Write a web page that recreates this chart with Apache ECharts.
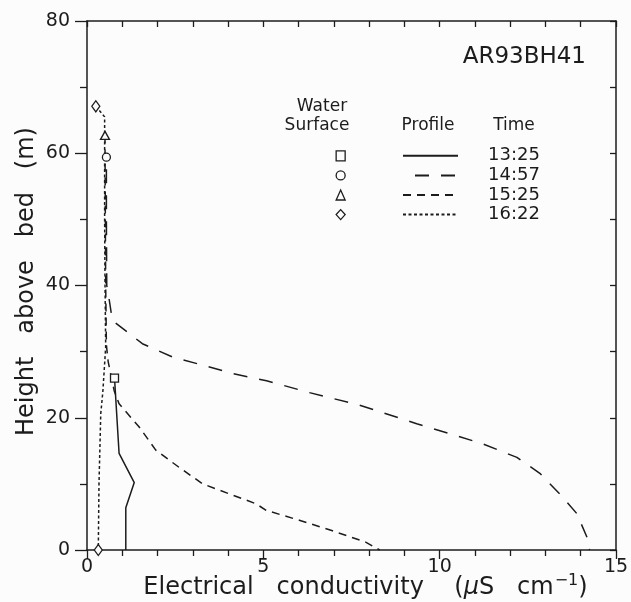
<!DOCTYPE html>
<html>
<head>
<meta charset="utf-8">
<title>AR93BH41</title>
<script src="https://cdn.jsdelivr.net/npm/echarts@6/dist/echarts.min.js"></script>
<style>
  html, body { margin: 0; padding: 0; background: #fcfcfc; }
  #chart { width: 631px; height: 602px; }
</style>
</head>
<body>
<div id="chart"></div>
<script>
// profile times and the water-surface symbol of each
const times = ['13:25', '14:57', '15:25', '16:22'];
const surfaceSymbols = ['rect', 'circle', 'triangle', 'diamond'];

// 13:25 solid
const cond1325 = [0.78, 0.91, 1.34, 1.1, 1.1];
const height1325 = [26, 14.6, 10.2, 6.4, 0];

// 14:57 long dash
const cond1457 = [0.55, 0.55, 0.56, 0.62, 0.72, 1.57, 2.42, 3.18, 4.12, 5.09, 6.31, 7.73, 9.35, 11.2, 12.19, 12.84, 13.4, 13.89, 14.18, 14.25];
const height1457 = [59.4, 50, 40, 38.2, 34.7, 31.2, 29.2, 28.1, 26.7, 25.6, 23.8, 21.9, 19.1, 16.1, 14.0, 11.6, 8.5, 5.5, 1.9, 0];

// 15:25 medium dash
const cond1525 = [0.51, 0.52, 0.53, 0.55, 0.6, 0.77, 0.91, 1.48, 1.95, 2.61, 3.28, 4.03, 4.79, 5.08, 6.02, 6.96, 7.9, 8.3];
const height1525 = [62.7, 50, 40, 31, 28.5, 24.1, 22.1, 18.6, 15.1, 12.5, 10, 8.5, 7, 6, 4.5, 2.9, 1.2, 0];

// 16:22 short dash
const cond1622 = [0.25, 0.5, 0.5, 0.51, 0.53, 0.45, 0.39, 0.34, 0.32];
const height1622 = [67.1, 65.5, 50, 40.8, 30.7, 24, 20.6, 10, 0];

// axis ranges
const xTicks = [0, 5, 10, 15];
const yTicks = [0, 20, 40, 60, 80];

const FONT = '"DejaVu Sans", sans-serif';
const INK = '#1c1c1c';
const BG = '#fcfcfc';

// data points marked with the water-surface symbol
function profile(cond, height, marked, symbol) {
    return cond.map(function (c, i) {
        if (marked.indexOf(i) >= 0) {
            return { value: [c, height[i]], symbol: symbol };
        }
        return [c, height[i]];
    });
}

const profiles = [
    { data: profile(cond1325, height1325, [0], 'rect'), dash: 'solid', offset: 0, size: 8 },
    { data: profile(cond1457, height1457, [0], 'circle'), dash: [14, 12], offset: 14, size: 8 },
    { data: profile(cond1525, height1525, [0], 'triangle'), dash: [8, 6], offset: 0, size: [9, 8] },
    { data: profile(cond1622, height1622, [0, cond1622.length - 1], 'diamond'), dash: [3, 2.5], offset: 0, size: [8, 11] }
];

const series = profiles.map(function (p, i) {
    return {
        name: times[i],
        type: 'line',
        data: p.data,
        symbol: 'none',
        symbolSize: p.size,
        showSymbol: true,
        silent: true,
        z: 3,
        lineStyle: { color: INK, width: 1.5, type: p.dash, dashOffset: p.offset },
        itemStyle: { color: BG, borderColor: INK, borderWidth: 1.3 }
    };
});

const tickStyle = { color: INK, width: 1.3 };

function header(text, x, y) {
    return {
        type: 'text', x: x, y: y, silent: true,
        style: { text: text, font: '17px ' + FONT, fill: INK, textAlign: 'center', align: 'center', textVerticalAlign: 'middle', verticalAlign: 'middle' }
    };
}

const option = {
    animation: false,
    backgroundColor: BG,
    textStyle: { fontFamily: FONT },
    title: {
        text: 'AR93BH41',
        right: 45,
        top: 46,
        padding: 0,
        textStyle: { fontFamily: FONT, fontSize: 23, fontWeight: 'normal', color: INK }
    },
    grid: { left: 87, right: 15, top: 21, bottom: 52, containLabel: false, outerBoundsMode: 'none' },
    legend: [
        {
            // water surface symbols
            selectedMode: false,
            orient: 'vertical',
            left: 335.5,
            top: 146,
            padding: 0,
            itemGap: 0,
            itemWidth: 9,
            itemHeight: 10,
            data: times.map(function (t, i) { return { name: t, icon: surfaceSymbols[i] }; }),
            itemStyle: { color: BG, borderColor: INK, borderWidth: 1.3 },
            formatter: function () { return ' '; },
            textStyle: { fontFamily: FONT, fontSize: 18, lineHeight: 19.6 }
        },
        {
            // profile line and time
            selectedMode: false,
            orient: 'vertical',
            left: 402,
            top: 146,
            padding: 0,
            itemGap: 0,
            itemWidth: 55,
            itemHeight: 10,
            data: times,
            itemStyle: { color: 'rgba(0,0,0,0)', borderColor: 'rgba(0,0,0,0)', borderWidth: 0 },
            textStyle: { fontFamily: FONT, fontSize: 18, color: INK, lineHeight: 19.6, padding: [0, 0, 0, 25] }
        }
    ],
    graphic: [
        header('Water', 322, 107),
        header('Surface', 317, 126),
        header('Profile', 428, 126),
        header('Time', 514, 126)
    ],
    xAxis: [
        {
            type: 'value',
            position: 'bottom',
            min: xTicks[0],
            max: xTicks[xTicks.length - 1],
            interval: 5,
            name: 'Electrical   conductivity    ({i|μ}S   cm{s|−1})',
            nameLocation: 'middle',
            nameGap: 23,
            nameMoveOverlap: false,
            nameTextStyle: {
                fontFamily: FONT, fontSize: 24, color: INK, lineHeight: 30, padding: [0, 0, 0, 28],
                rich: {
                    i: { fontFamily: FONT, fontSize: 24, color: INK, lineHeight: 30, fontStyle: 'italic' },
                    s: { fontFamily: FONT, fontSize: 16, color: INK, lineHeight: 16, verticalAlign: 'top', padding: [0, 0, 0, 1] }
                }
            },
            axisLine: { show: true, onZero: false, lineStyle: { color: INK, width: 1.5 } },
            axisTick: { show: true, inside: false, length: 9, lineStyle: tickStyle },
            minorTick: { show: true, splitNumber: 5, length: 6, lineStyle: tickStyle },
            axisLabel: { show: true, margin: 8, fontFamily: FONT, fontSize: 19, color: INK },
            splitLine: { show: false }
        },
        {
            type: 'value',
            position: 'top',
            min: xTicks[0],
            max: xTicks[xTicks.length - 1],
            interval: 1,
            axisLine: { show: true, onZero: false, lineStyle: { color: INK, width: 1.5 } },
            axisTick: { show: true, inside: true, length: 6, lineStyle: tickStyle },
            axisLabel: { show: false },
            splitLine: { show: false }
        }
    ],
    yAxis: [
        {
            type: 'value',
            position: 'left',
            min: yTicks[0],
            max: yTicks[yTicks.length - 1],
            interval: 20,
            name: 'Height   above   bed   (m)',
            nameLocation: 'middle',
            nameGap: 48,
            nameMoveOverlap: false,
            nameTextStyle: { fontFamily: FONT, fontSize: 24, color: INK, padding: [0, 0, 0, 8] },
            axisLine: { show: true, onZero: false, lineStyle: { color: INK, width: 1.5 } },
            axisTick: { show: true, inside: false, length: 12, lineStyle: tickStyle },
            minorTick: { show: true, splitNumber: 2, length: 7, lineStyle: tickStyle },
            axisLabel: { show: true, margin: 17, fontFamily: FONT, fontSize: 19, color: INK },
            splitLine: { show: false }
        },
        {
            type: 'value',
            position: 'right',
            min: yTicks[0],
            max: yTicks[yTicks.length - 1],
            interval: 10,
            axisLine: { show: true, onZero: false, lineStyle: { color: INK, width: 1.5 } },
            axisTick: { show: true, inside: true, length: 6, lineStyle: tickStyle },
            axisLabel: { show: false },
            splitLine: { show: false }
        }
    ],
    series: series
};

const chart = echarts.init(document.getElementById('chart'));
chart.setOption(option);
</script>
</body>
</html>
